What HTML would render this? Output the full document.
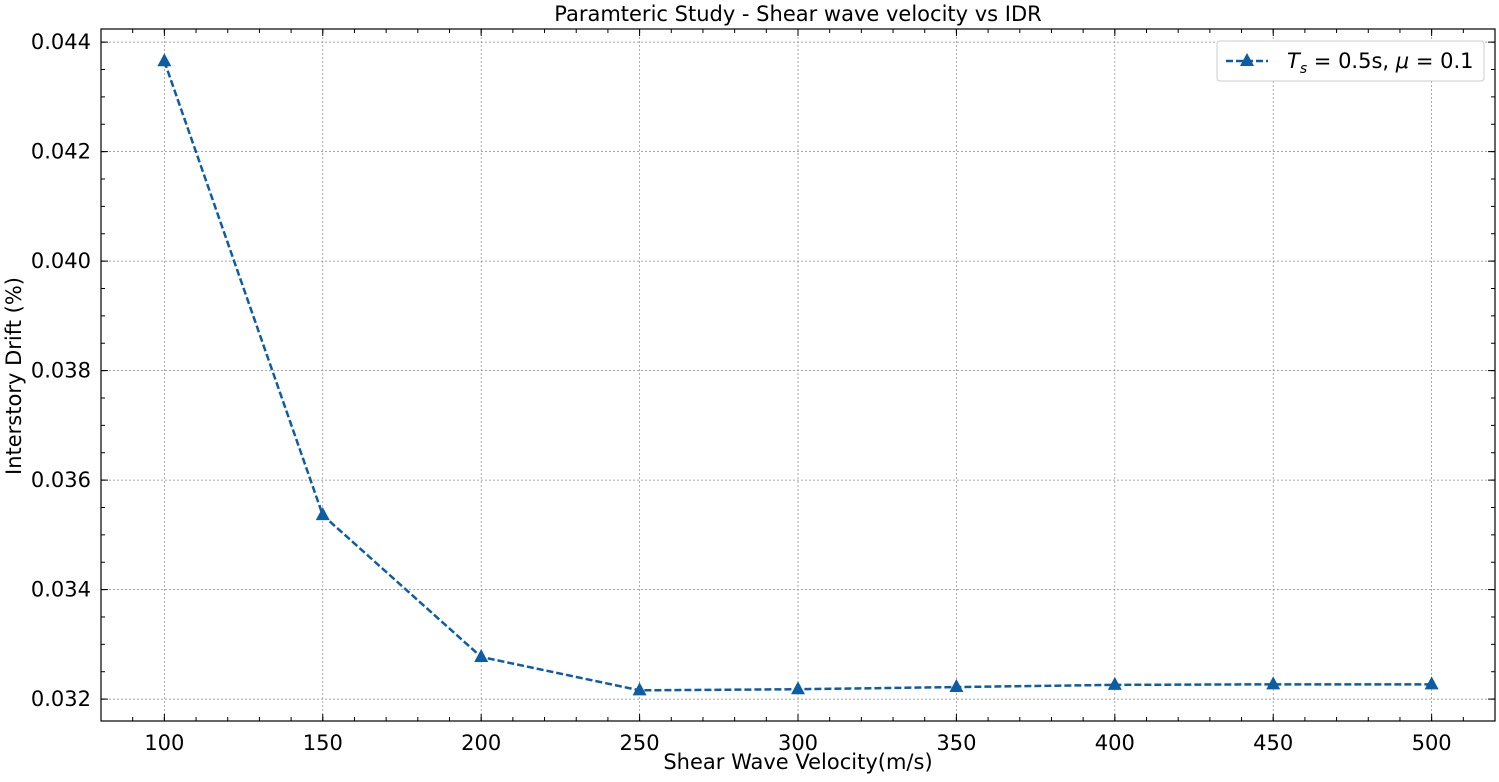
<!DOCTYPE html>
<html><head><meta charset="utf-8"><style>
body{margin:0;background:#fff;}
svg text{font-family:"DejaVu Sans","Liberation Sans",sans-serif;fill:#000;}
</style></head><body>
<svg id="chart" width="1499" height="777" xmlns="http://www.w3.org/2000/svg">
<g id="grid"></g>
<g id="ticks"></g>
<g id="series"></g>
<rect x="101" y="29" width="1394" height="692" fill="none" stroke="#000" stroke-width="1.2"/>
<text x="798" y="21" font-size="21" text-anchor="middle">Paramteric Study - Shear wave velocity vs IDR</text>
<text x="798" y="769" font-size="21" text-anchor="middle">Shear Wave Velocity(m/s)</text>
<text transform="translate(21,376) rotate(-90)" font-size="21" text-anchor="middle">Interstory Drift (%)</text>
<g>
<rect x="1217" y="41" width="267" height="40" rx="3" fill="#fff" stroke="#ccc"/>
<line x1="1226" y1="61" x2="1268" y2="61" stroke="#0C5DA5" stroke-width="2.5" stroke-dasharray="7,3"/>
<polygon points="1247,53 1254,66 1240,66" fill="#0C5DA5"/>
<text x="1287" y="68" font-size="21"><tspan font-style="italic">T</tspan><tspan font-size="14" dy="5" font-style="italic">s</tspan><tspan dy="-5"> = 0.5s, </tspan><tspan font-style="italic">μ</tspan><tspan> = 0.1</tspan></text>
</g>
</svg>
<script>
const categories=[100,150,200,250,300,350,400,450,500];
const idrValues=[0.04365,0.03536,0.03277,0.03216,0.03218,0.03222,0.03226,0.03227,0.03227];
const xTickLabels=["100","150","200","250","300","350","400","450","500"];
const yTickLabels=["0.032","0.034","0.036","0.038","0.040","0.042","0.044"];
const L=101,R=1495,T=29,B=721,xmin=80,xmax=520,ymin=0.0316,ymax=0.04424;
const NS="http://www.w3.org/2000/svg";
const X=v=>L+(v-xmin)/(xmax-xmin)*(R-L);
const Y=v=>B-(v-ymin)/(ymax-ymin)*(B-T);
function mk(t,a,p){const e=document.createElementNS(NS,t);for(const k in a)e.setAttribute(k,a[k]);p.appendChild(e);return e;}
const grid=document.getElementById('grid'),ticks=document.getElementById('ticks'),ser=document.getElementById('series');
xTickLabels.forEach(s=>{const v=+s,x=X(v);
const g=mk('line',{x1:x,x2:x,y1:T,y2:B,stroke:'#888','stroke-width':0.7,'stroke-dasharray':'2,2'},grid);


mk('line',{x1:x,x2:x,y1:B,y2:B-7,stroke:'#000'},ticks);mk('line',{x1:x,x2:x,y1:T,y2:T+7,stroke:'#000'},ticks);
const t=mk('text',{x:x,y:B+29,'font-size':21,'text-anchor':'middle'},ticks);t.textContent=s;

});
for(let v=xmin;v<=xmax;v+=10){const x=X(v);if(x<L||x>R)continue;
mk('line',{x1:x,x2:x,y1:B,y2:B-4,stroke:'#000'},ticks);mk('line',{x1:x,x2:x,y1:T,y2:T+4,stroke:'#000'},ticks);}
yTickLabels.forEach(s=>{const v=+s,y=Y(v);
const g=mk('line',{x1:L,x2:R,y1:y,y2:y,stroke:'#888','stroke-width':0.7,'stroke-dasharray':'2,2'},grid);


mk('line',{x1:L,x2:L+7,y1:y,y2:y,stroke:'#000'},ticks);mk('line',{x1:R,x2:R-7,y1:y,y2:y,stroke:'#000'},ticks);
const t=mk('text',{x:L-10,y:y+7,'font-size':21,'text-anchor':'end'},ticks);t.textContent=s;

});
for(let i=0;;i++){const v=0.0315+i*0.0005;if(v>ymax)break;const y=Y(v);if(y>B||y<T)continue;
mk('line',{x1:L,x2:L+4,y1:y,y2:y,stroke:'#000'},ticks);mk('line',{x1:R,x2:R-4,y1:y,y2:y,stroke:'#000'},ticks);}
const pts=categories.map((c,i)=>X(c)+','+Y(idrValues[i])).join(' ');
const pl=mk('polyline',{points:pts,fill:'none',stroke:'#0C5DA5','stroke-width':2.5,'stroke-dasharray':'7,3'},ser);


categories.forEach((c,i)=>{const x=X(c),y=Y(idrValues[i]);
const m=mk('polygon',{points:`${x},${y-8} ${x+7},${y+5} ${x-7},${y+5}`,fill:'#0C5DA5'},ser);

});
</script>
</body></html>
